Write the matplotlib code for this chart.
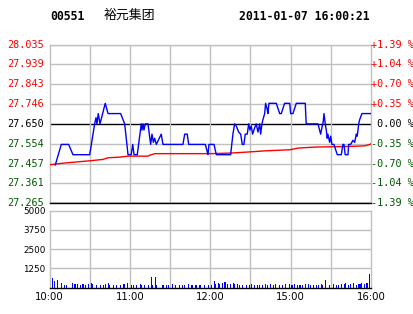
import matplotlib
matplotlib.use("Agg")
import matplotlib.pyplot as plt

# ---------- data ----------
code = "00551"
name = "裕元集团"
stamp = "2011-01-07 16:00:21"
prev_close = 27.650

price_levels = [28.035, 27.939, 27.843, 27.746, 27.650, 27.554, 27.457, 27.361, 27.265]
pct_labels = ["+1.39 %", "+1.04 %", "+0.70 %", "+0.35 %", " 0.00 %",
              "-0.35 %", "-0.70 %", "-1.04 %", "-1.39 %"]

# minutes since 10:00 (trading minutes, 240 in total)
price_t = [4.3, 8.8, 14.3, 17.5, 30.0, 33.7, 34.7, 35.4, 36.4, 37.7, 41.6, 43.7,
           53.1, 56.1, 58.6, 61, 62.1, 63.1, 65.5, 68.5, 69, 69.8, 70.5, 71.5,
           73.5, 75.5, 76.5, 77.5, 78.5, 79.7, 83.4, 84.7, 99.6, 100.9, 102.8,
           103.9, 116.3, 118.3, 119, 122.8, 124.5, 135.2, 136.9, 138.2, 139.4,
           141.2, 142.7, 143.9, 145.1, 146.1, 147.6, 148.7, 149.6, 150.6, 151.6,
           153.1, 154.3, 155.6, 156.9, 157.6, 158.6, 159.3, 160.6, 161.3, 162.5,
           163, 163.8, 169.3, 171.8, 173, 175.5, 179.3, 180, 181.7, 184.2, 190.9,
           191.6, 200.4, 201.6, 202.4, 203.6, 204.3, 204.9, 205.8, 206.6, 207.3,
           207.8, 209.1, 209.9, 210.8, 212.3, 213.3, 214.8, 217.8, 219, 219.8,
           220.7, 222.8, 223.3, 224.8, 226.5, 227.8, 229, 229.7, 230.8, 231.5,
           233.2, 240]
price = [27.45, 27.55, 27.55, 27.50, 27.50, 27.65, 27.68, 27.65, 27.70, 27.65,
         27.75, 27.70, 27.70, 27.65, 27.50, 27.50, 27.55, 27.50, 27.50, 27.65,
         27.62, 27.65, 27.62, 27.65, 27.65, 27.55, 27.60, 27.56, 27.58, 27.55,
         27.60, 27.55, 27.55, 27.60, 27.60, 27.55, 27.55, 27.50, 27.55, 27.55,
         27.50, 27.50, 27.60, 27.65, 27.64, 27.61, 27.60, 27.55, 27.55, 27.60,
         27.60, 27.65, 27.62, 27.64, 27.60, 27.63, 27.65, 27.61, 27.65, 27.60,
         27.65, 27.67, 27.70, 27.75, 27.72, 27.70, 27.75, 27.75, 27.70, 27.70,
         27.75, 27.75, 27.70, 27.70, 27.75, 27.75, 27.65, 27.65, 27.62, 27.60,
         27.64, 27.66, 27.70, 27.65, 27.62, 27.58, 27.60, 27.56, 27.59, 27.55,
         27.55, 27.53, 27.50, 27.50, 27.55, 27.55, 27.50, 27.50, 27.55, 27.55,
         27.57, 27.56, 27.60, 27.59, 27.65, 27.67, 27.70, 27.70]

avg_t = [0, 6.3, 13.8, 22.5, 31.2, 39.9, 43.7, 52.4, 58.6, 73.5, 75, 78.7,
         119.8, 135.4, 148.1, 161.6, 179.5, 185.4, 197.9, 222.8, 235.2, 239.2, 240]
avg_price = [27.451, 27.456, 27.461, 27.466, 27.471, 27.477, 27.485, 27.488,
             27.493, 27.493, 27.498, 27.505, 27.505, 27.508, 27.513, 27.519,
             27.524, 27.532, 27.537, 27.540, 27.543, 27.550, 27.553]

vol_t = [0, 2, 4, 6, 9, 11, 13, 17, 19, 21, 23, 25, 27, 29, 31, 32, 35, 38, 40,
         42, 44, 45, 48, 50, 53, 55, 56, 58, 61, 63, 65, 68, 69, 71, 74, 76, 77,
         79, 80, 84, 85, 87, 89, 92, 94, 97, 99, 101, 104, 106, 107, 109, 110,
         112, 113, 116, 119, 121, 123, 124, 126, 127, 129, 131, 133, 135, 137,
         138, 140, 142, 144, 147, 149, 151, 153, 155, 157, 159, 161, 163, 165,
         167, 169, 172, 174, 176, 179, 181, 183, 185, 187, 189, 191, 193, 195,
         197, 199, 201, 203, 204, 206, 209, 212, 214, 216, 218, 220, 221, 223,
         225, 227, 229, 231, 232, 233, 235, 237, 239]
volume = [5000, 600, 430, 470, 320, 170, 170, 320, 215, 260, 170, 215, 170, 215,
          325, 215, 170, 170, 170, 215, 325, 170, 170, 170, 170, 215, 215, 325,
          170, 170, 170, 260, 170, 170, 170, 690, 170, 690, 170, 170, 170, 170,
          170, 215, 170, 170, 170, 170, 215, 170, 170, 170, 170, 170, 170, 170,
          170, 170, 430, 260, 325, 215, 325, 390, 215, 215, 325, 260, 215, 170,
          170, 170, 170, 215, 170, 170, 170, 170, 215, 170, 215, 170, 215, 170,
          170, 215, 260, 170, 215, 170, 170, 170, 215, 215, 170, 170, 170, 170,
          215, 170, 520, 170, 215, 170, 170, 215, 260, 325, 170, 215, 325, 170,
          215, 260, 325, 215, 325, 860]

vol_ticks = [1250, 2500, 3750, 5000]
time_ticks = [0, 60, 120, 180, 240]
time_labels = ["10:00", "11:00", "12:00", "15:00", "16:00"]

RED = "#ff0000"
GREEN = "#005a00"
GRID = "#c0c0c0"
MONO = "DejaVu Sans Mono"

fig = plt.figure(figsize=(4.14, 3.14), dpi=100)
ax_p = fig.add_axes([0.1196, 0.3535, 0.7766, 0.5041])
ax_v = fig.add_axes([0.1196, 0.0838, 0.7766, 0.2452])

# ---------- header ----------
fig.text(50 / 414, 1 - 16 / 314, code, family=MONO, weight="bold",
         fontsize=8.3, va="center", ha="left")
fig.text(104 / 414, 1 - 15 / 314, name, family=["Noto Sans CJK SC", "DejaVu Sans"],
         fontsize=9.3, va="center", ha="left")
fig.text(370 / 414, 1 - 16 / 314, stamp, family=MONO, weight="bold",
         fontsize=8.3, va="center", ha="right")

# ---------- price panel ----------
for lvl in price_levels:
    c = "black" if lvl in (prev_close, price_levels[-1]) else GRID
    ax_p.axhline(lvl, color=c, lw=1.0, zorder=1)
for t in range(30, 240, 30):
    ax_p.axvline(t, color=GRID, lw=1.0, zorder=1)

ax_p.plot(avg_t, avg_price, color=RED, lw=1.0, zorder=3)
ax_p.plot(price_t, price, color="#0000ff", lw=1.0, zorder=4)

ax_p.set_xlim(0, 240)
ax_p.set_ylim(price_levels[-1], price_levels[0])
ax_p.set_xticks([])
ax_p.set_yticks([])
for s in ax_p.spines.values():
    s.set_color(GRID)
    s.set_linewidth(1.0)
ax_p.spines["bottom"].set_color("black")

tr_y = ax_p.get_yaxis_transform()
for lvl, pct in zip(price_levels, pct_labels):
    if lvl > prev_close:
        c = RED
    elif lvl < prev_close:
        c = GREEN
    else:
        c = "black"
    ax_p.text(-0.017, lvl, f"{lvl:.3f}", transform=tr_y, ha="right", va="center",
              family=MONO, fontsize=7.3, color=c)
    ax_p.text(1.0, lvl, pct, transform=tr_y, ha="left", va="center",
              family=MONO, fontsize=7.3, color=c)

# ---------- volume panel ----------
ax_v.bar(vol_t, volume, width=0.8, color="#0000ff", zorder=3)
for v in vol_ticks[:-1]:
    ax_v.axhline(v, color=GRID, lw=1.0, zorder=1)
for t in range(30, 240, 30):
    ax_v.axvline(t, color=GRID, lw=1.0, zorder=1)
ax_v.set_xlim(0, 240)
ax_v.set_ylim(0, 5000)
ax_v.set_yticks(vol_ticks)
ax_v.set_yticklabels([str(v) for v in vol_ticks], fontsize=6.3)
ax_v.set_xticks(time_ticks)
ax_v.set_xticklabels(time_labels, fontsize=7.3)
ax_v.tick_params(length=0, pad=3)
for s in ax_v.spines.values():
    s.set_color(GRID)
    s.set_linewidth(1.0)
ax_v.spines["bottom"].set_color("black")

fig.savefig("out.png", dpi=100, facecolor="white")
